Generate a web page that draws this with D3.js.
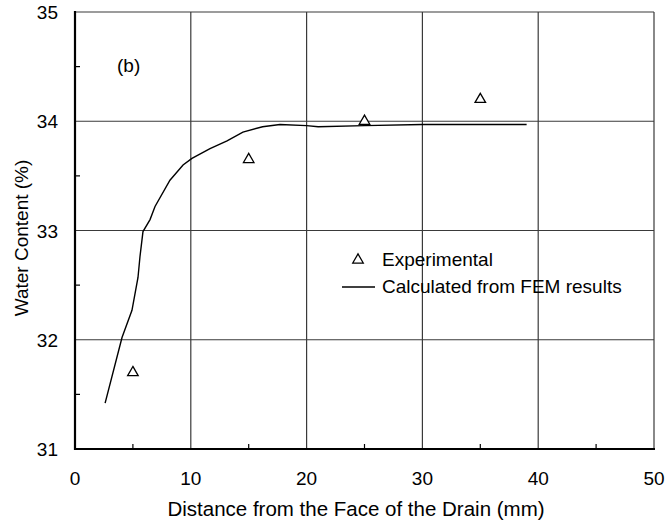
<!DOCTYPE html>
<html><head><meta charset="utf-8">
<script src="https://cdn.jsdelivr.net/npm/d3@7"></script>
<style>
html,body{margin:0;padding:0;background:#fff;}
text{font-family:"Liberation Sans",Arial,sans-serif;fill:#000;}
</style></head>
<body>
<svg id="chart" width="667" height="525"></svg>
<script>
// Data
const expX = [5, 15, 25, 35];
const expY = [31.7, 33.65, 34.0, 34.2];
const femX = [2.6, 4.06, 4.92, 5.44, 5.61, 5.87, 6.48, 6.91, 8.2, 9.33, 10.1, 11.66, 13.13, 14.5, 16.2, 17.7, 20, 21, 25, 30, 39];
const femY = [31.42, 32.02, 32.27, 32.57, 32.76, 32.99, 33.1, 33.22, 33.46, 33.6, 33.66, 33.75, 33.82, 33.9, 33.95, 33.97, 33.96, 33.95, 33.96, 33.97, 33.97];
const xTicks = [0, 10, 20, 30, 40, 50];
const yTicks = [31, 32, 33, 34, 35];
const xMinor = [5, 15, 25, 35, 45];
const yMinor = [31.5, 32.5, 33.5, 34.5];

const svg = d3.select("#chart");
const L = 75, R = 654, T = 12, B = 449;
const x = d3.scaleLinear().domain([0, 50]).range([L, R]);
const y = d3.scaleLinear().domain([31, 35]).range([B, T]);

// gridlines
const g = svg.append("g");
g.selectAll(".vg").data(xTicks.filter(d => d > 0)).enter().append("line")
  .attr("x1", d => x(d)).attr("x2", d => x(d)).attr("y1", T).attr("y2", B)
  .attr("stroke", "#3a3a3a").attr("stroke-width", 1.2);
g.selectAll(".hg").data(yTicks.filter(d => d > 31)).enter().append("line")
  .attr("x1", L).attr("x2", R).attr("y1", d => y(d)).attr("y2", d => y(d))
  .attr("stroke", "#3a3a3a").attr("stroke-width", 1.2);

// minor ticks
g.selectAll(".xm").data(xMinor).enter().append("line")
  .attr("x1", d => x(d)).attr("x2", d => x(d)).attr("y1", B).attr("y2", B - 5)
  .attr("stroke", "#000").attr("stroke-width", 1.2);
g.selectAll(".ym").data(yMinor).enter().append("line")
  .attr("x1", L).attr("x2", L + 5).attr("y1", d => y(d)).attr("y2", d => y(d))
  .attr("stroke", "#000").attr("stroke-width", 1.2);

// axes lines (left and bottom, thicker)
svg.append("line").attr("x1", L).attr("x2", L).attr("y1", T - 1).attr("y2", B + 1)
  .attr("stroke", "#000").attr("stroke-width", 2.2);
svg.append("line").attr("x1", L - 1).attr("x2", R + 1).attr("y1", B).attr("y2", B)
  .attr("stroke", "#000").attr("stroke-width", 2.2);

// tick labels
svg.selectAll(".xl").data(xTicks).enter().append("text")
  .attr("x", d => x(d)).attr("y", 485).attr("text-anchor", "middle")
  .attr("font-size", 19).text(d => d);
svg.selectAll(".yl").data(yTicks).enter().append("text")
  .attr("x", 58).attr("y", d => y(d) + 7).attr("text-anchor", "end")
  .attr("font-size", 19).text(d => d);

// axis titles
svg.append("text").attr("x", 356).attr("y", 516).attr("text-anchor", "middle")
  .attr("font-size", 20.5).text("Distance from the Face of the Drain (mm)");
svg.append("text").attr("transform", "translate(28," + 238 + ") rotate(-90)")
  .attr("text-anchor", "middle").attr("font-size", 19).text("Water Content (%)");

// (b)
svg.append("text").attr("x", 117).attr("y", 72).attr("font-size", 19).text("(b)");

// FEM line
const line = d3.line().x(d => x(d[0])).y(d => y(d[1]));
svg.append("path").datum(femX.map((v, i) => [v, femY[i]]))
  .attr("d", line).attr("fill", "none").attr("stroke", "#000").attr("stroke-width", 1.4);

// triangles
const tri = d3.symbol().type(d3.symbolTriangle).size(48);
svg.selectAll(".pt").data(expX.map((v, i) => [v, expY[i]])).enter().append("path")
  .attr("d", tri).attr("transform", d => "translate(" + x(d[0]) + "," + y(d[1]) + ")")
  .attr("fill", "#fff").attr("stroke", "#000").attr("stroke-width", 1.3);

// legend
svg.append("path").attr("d", tri).attr("transform", "translate(358,260)")
  .attr("fill", "#fff").attr("stroke", "#000").attr("stroke-width", 1.3);
svg.append("text").attr("x", 382).attr("y", 266).attr("font-size", 19).text("Experimental");
svg.append("line").attr("x1", 342).attr("x2", 375).attr("y1", 287).attr("y2", 287)
  .attr("stroke", "#000").attr("stroke-width", 1.4);
svg.append("text").attr("x", 382).attr("y", 293).attr("font-size", 19).text("Calculated from FEM results");
</script>
</body></html>
